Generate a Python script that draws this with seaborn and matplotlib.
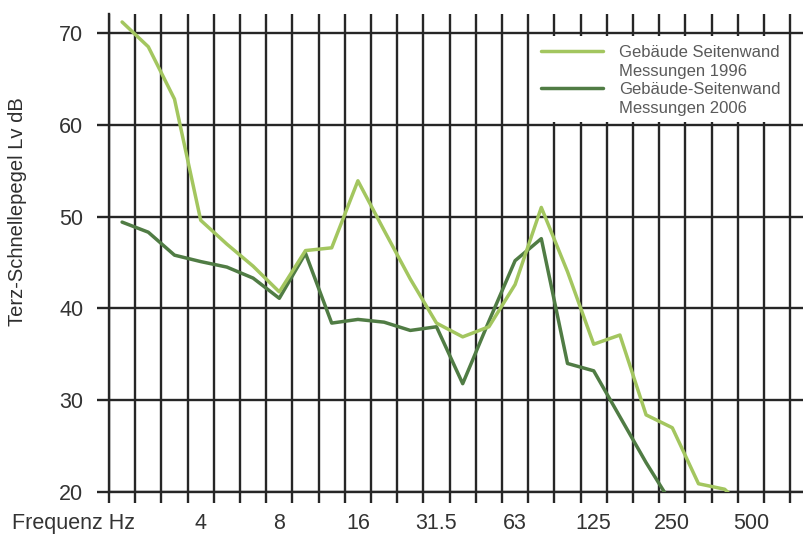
import numpy as np
import pandas as pd
import seaborn as sns
import matplotlib
matplotlib.use("Agg")
import matplotlib.pyplot as plt
from matplotlib.lines import Line2D
from matplotlib.patches import Rectangle

# Third-octave band centre frequencies (Hz)
bands = ["2", "2.5", "3.15", "4", "5", "6.3", "8", "10", "12.5", "16", "20", "25",
         "31.5", "40", "50", "63", "80", "100", "125", "160", "200", "250", "315",
         "400", "500", "630"]
tick_bands = ["4", "8", "16", "31.5", "63", "125", "250", "500"]

# Velocity level per band, dB
lv_1996 = [71.2, 68.5, 62.8, 49.6, 47.0, 44.6, 41.8, 46.3, 46.6, 53.9, 48.5, 43.2,
           38.4, 36.9, 38.0, 42.6, 51.0, 44.0, 36.1, 37.1, 28.4, 27.0, 20.9, 20.3, 17.5]
lv_2006 = [49.4, 48.3, 45.8, 45.1, 44.5, 43.3, 41.1, 46.0, 38.4, 38.8, 38.5, 37.6,
           38.0, 31.8, 38.6, 45.2, 47.6, 34.0, 33.2, 28.2, 23.2, 18.6]

series = ["Gebäude Seitenwand\nMessungen 1996", "Gebäude-Seitenwand\nMessungen 2006"]
colors = {series[0]: "#a3c65f", series[1]: "#507c44"}

df = pd.concat([
    pd.DataFrame({"band": range(len(lv_2006)), "lv": lv_2006, "serie": series[1]}),
    pd.DataFrame({"band": range(len(lv_1996)), "lv": lv_1996, "serie": series[0]}),
], ignore_index=True)

sns.set_theme(style="white")
plt.rcParams["font.family"] = ["Liberation Sans", "DejaVu Sans"]

grid_c = "#262626"
grid_w = 1.7
line_w = 2.5

fig = plt.figure(figsize=(8.04, 5.37), dpi=100)
ax = fig.add_axes([109 / 804, 1 - 492 / 537, 695 / 804, 478 / 537])

sns.lineplot(data=df, x="band", y="lv", hue="serie", palette=colors,
             hue_order=[series[1], series[0]], linewidth=line_w, legend=False,
             sort=False, ax=ax, zorder=3)

ax.set_xlim(-0.5, -0.5 + 695 / 26.2)
ax.set_ylim(20, 72.07)

# band edges as vertical grid lines, octave labels in the band centres
ax.set_xticks(np.arange(-0.5, len(bands), 1.0), minor=True)
ax.set_xticks([bands.index(b) for b in tick_bands])
ax.set_xticklabels(tick_bands)
ax.set_yticks([20, 30, 40, 50, 60, 70])

ax.grid(True, which="minor", axis="x", color=grid_c, linewidth=grid_w)
ax.grid(True, which="major", axis="y", color=grid_c, linewidth=grid_w)
ax.grid(False, which="major", axis="x")

ax.tick_params(axis="x", which="minor", bottom=True, length=8, width=grid_w,
               color=grid_c, direction="out")
ax.tick_params(axis="x", which="major", bottom=True, length=0, pad=15,
               labelsize=15.5, labelcolor="#333333")
ax.tick_params(axis="y", which="major", left=True, length=8.6, width=grid_w,
               color=grid_c, direction="out", pad=10, labelsize=15.5,
               labelcolor="#333333")

for s in ["top", "right"]:
    ax.spines[s].set_visible(False)
for s in ["left", "bottom"]:
    ax.spines[s].set_color(grid_c)
    ax.spines[s].set_linewidth(grid_w)

ax.set_xlabel("")
ax.set_ylabel("")

fig.text(12 / 804, 1 - 523 / 537, "Frequenz Hz", ha="left", va="center",
         fontsize=15.5, color="#333333")
fig.text(18 / 804, 1 - 212 / 537, "Terz-Schnellepegel Lv dB", rotation=90,
         ha="center", va="center", fontsize=14.5, color="#2e2e2e")

# white panel behind the legend, between the grid lines
ax.add_patch(Rectangle(((530 - 109) / 695, (492 - 122) / 478), (788 - 530) / 695,
                       (122 - 36) / 478, transform=ax.transAxes, facecolor="white",
                       edgecolor="none", zorder=4))

blank = Line2D([], [], linestyle="none")
handles = [Line2D([], [], color=colors[series[0]], linewidth=line_w), blank,
           Line2D([], [], color=colors[series[1]], linewidth=line_w), blank]
labels = ["Gebäude Seitenwand", "Messungen 1996", "Gebäude-Seitenwand", "Messungen 2006"]
leg = ax.legend(handles, labels, loc="upper left",
                bbox_to_anchor=((541 - 109) / 695, (492 - 45) / 478),
                borderaxespad=0, borderpad=0, frameon=False, fontsize=12,
                labelcolor="#5a5a5a", handlelength=3.7, handletextpad=1.0,
                labelspacing=0.22)
leg.set_zorder(5)

fig.savefig("out.png", dpi=100)
